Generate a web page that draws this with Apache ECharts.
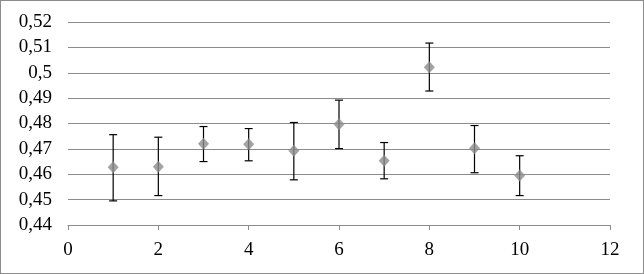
<!DOCTYPE html>
<html><head><meta charset="utf-8">
<script src="https://cdn.jsdelivr.net/npm/echarts@6/dist/echarts.min.js"></script>
<style>html,body{margin:0;padding:0;background:#fff}
#c{position:absolute;left:0;top:0;width:642px;height:272px;border:1px solid #8c8c8c}</style>
</head><body><div id="c"></div>
<script>
const xValues = [1, 2, 3, 4, 5, 6, 7, 8, 9, 10];
const yValues = [0.4628, 0.4630, 0.4720, 0.4718, 0.4693, 0.4797, 0.4653, 0.5022, 0.4702, 0.4595];
const errHigh = [0.4756, 0.4746, 0.4788, 0.4780, 0.4804, 0.4892, 0.4725, 0.5117, 0.4792, 0.4673];
const errLow  = [0.4495, 0.4516, 0.4650, 0.4653, 0.4578, 0.4701, 0.4582, 0.4928, 0.4606, 0.4516];

const chart = echarts.init(document.getElementById('c'), null, {renderer:'canvas'});
const font = 'Liberation Serif';
chart.setOption({
  animation:false,
  grid:{left:67,right:33,top:21,bottom:48},
  xAxis:{type:'value',min:0,max:12,interval:2,
    axisLine:{lineStyle:{color:'#8c8c8c',width:1}},
    axisTick:{show:true,length:5,lineStyle:{color:'#8c8c8c'}},
    axisLabel:{color:'#000',fontFamily:font,fontSize:19,margin:16},
    splitLine:{show:false}},
  yAxis:{type:'value',min:0.44,max:0.52,interval:0.01,
    axisLine:{show:false},axisTick:{show:false},
    axisLabel:{color:'#000',fontFamily:font,fontSize:19,margin:16,
      formatter:v=>String(parseFloat(v.toFixed(2))).replace('.',',')},
    splitLine:{lineStyle:{color:'#8c8c8c',width:1}}},
  series:[
    {type:'custom',
     data:xValues.map((x,i)=>[x,errLow[i],errHigh[i]]),
     renderItem:(params,api)=>{
       const lo=api.coord([api.value(0),api.value(1)]);
       const hi=api.coord([api.value(0),api.value(2)]);
       const w=4;
       const st={stroke:'#000',lineWidth:1.2};
       return {type:'group',children:[
         {type:'line',shape:{x1:lo[0],y1:lo[1],x2:hi[0],y2:hi[1]},style:st},
         {type:'line',shape:{x1:lo[0]-w,y1:lo[1],x2:lo[0]+w,y2:lo[1]},style:st},
         {type:'line',shape:{x1:hi[0]-w,y1:hi[1],x2:hi[0]+w,y2:hi[1]},style:st}
       ]};
     },z:2},
    {type:'scatter',data:xValues.map((x,i)=>[x,yValues[i]]),
     symbol:'diamond',symbolSize:[11,12],
     itemStyle:{color:'#8c8c8c'},z:3}
  ]
});
</script></body></html>
